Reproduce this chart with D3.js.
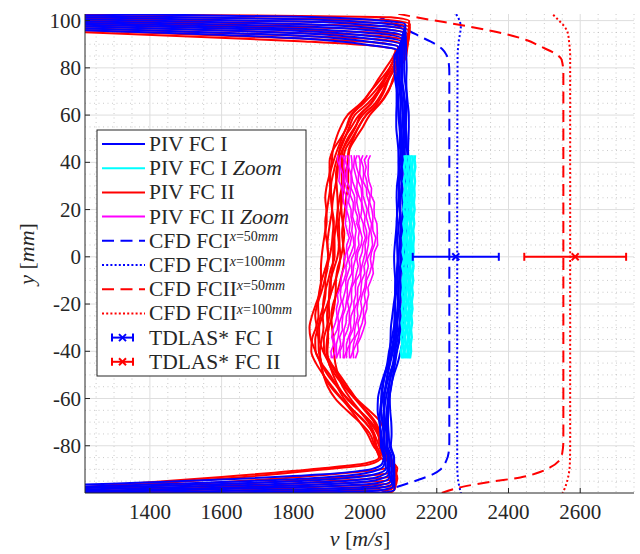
<!DOCTYPE html>
<html><head><meta charset="utf-8">
<script src="https://cdn.jsdelivr.net/npm/d3@7"></script>
<style>
body{margin:0;background:#fff}
text{font-family:"Liberation Serif","Times New Roman",serif;fill:#262626;white-space:pre}
</style>
</head><body>
<svg id="c" width="640" height="554"></svg>
<script>
// ---------------- data ----------------
const xTicks = [1400, 1600, 1800, 2000, 2200, 2400, 2600];
const yTicks = [-80, -60, -40, -20, 0, 20, 40, 60, 80, 100];

// shared y sampling of the PIV core profiles (mm)
const yCore = [-85,-80,-75,-70,-65,-60,-55,-50,-45,-40,-35,-30,-25,-20,-15,-10,-5,0,5,10,15,20,25,30,35,40,45,50,55,60,65,70,75,80,85];
// y sampling of the zoom windows (mm)
const yZoom = [-43,-40,-37,-34,-31,-28,-25,-22,-19,-16,-13,-10,-7,-4,-1,2,5,8,11,14,17,20,23,26,29,32,35,38,41,43];

// PIV FC I (blue) core velocities, one row per profile
const pivFC1Core = [
 [2052,2044,2045,2040,2035,2036,2043,2053,2064,2069,2071,2072,2076,2080,2084,2084,2082,2081,2083,2086,2089,2089,2088,2089,2093,2095,2093,2090,2087,2087,2088,2088,2084,2082,2082],
 [2057,2045,2043,2041,2042,2046,2050,2055,2062,2067,2074,2080,2084,2084,2084,2086,2089,2091,2090,2088,2088,2091,2094,2095,2094,2093,2094,2097,2097,2094,2091,2089,2089,2090,2087],
 [2057,2049,2051,2049,2045,2045,2048,2056,2068,2075,2081,2082,2082,2083,2087,2090,2092,2091,2090,2092,2095,2098,2098,2095,2095,2098,2100,2099,2096,2093,2093,2095,2094,2091,2088],
 [2064,2055,2053,2048,2045,2049,2057,2063,2069,2073,2079,2084,2088,2092,2093,2091,2091,2093,2096,2098,2100,2098,2097,2096,2099,2102,2104,2103,2100,2098,2099,2099,2095,2092,2091],
 [2065,2053,2054,2053,2053,2054,2057,2062,2070,2078,2086,2090,2091,2091,2092,2095,2097,2100,2100,2100,2099,2098,2100,2102,2105,2105,2103,2102,2103,2104,2104,2101,2097,2097,2096],
 [2067,2059,2061,2057,2053,2053,2059,2068,2078,2082,2085,2087,2092,2097,2100,2099,2099,2098,2098,2101,2104,2106,2106,2104,2103,2105,2107,2109,2109,2106,2103,2101,2102,2102,2098],
 [2074,2062,2060,2055,2054,2058,2065,2073,2080,2084,2090,2095,2099,2099,2098,2098,2101,2104,2106,2105,2104,2106,2109,2111,2111,2110,2108,2107,2108,2109,2109,2106,2102,2102,2102],
 [2073,2061,2062,2061,2061,2064,2067,2072,2080,2088,2095,2097,2098,2098,2101,2105,2108,2108,2107,2107,2107,2110,2113,2114,2113,2112,2111,2113,2113,2114,2112,2108,2104,2104,2104],
 [2080,2068,2066,2064,2064,2067,2073,2078,2084,2089,2096,2100,2105,2108,2108,2107,2107,2110,2113,2115,2113,2112,2112,2114,2117,2119,2117,2116,2114,2115,2117,2115,2111,2109,2109],
 [2081,2072,2074,2073,2070,2069,2072,2080,2091,2099,2105,2106,2107,2108,2112,2115,2117,2117,2115,2114,2116,2119,2121,2123,2123,2122,2120,2121,2122,2122,2119,2116,2115,2116,2115]
];
// PIV FC I near-wall points [v, y]
const pivFC1Bottom = [
 [[1150,-96.8],[1874,-92.2],[2020,-89.8],[2048,-87.5]],
 [[1150,-97.6],[1874,-93.5],[2020,-91.0],[2052,-88.5]],
 [[1150,-98.2],[1874,-94.5],[2025,-92.2],[2058,-89.6]],
 [[1150,-98.8],[1874,-95.5],[2030,-93.4],[2062,-90.8]],
 [[1150,-99.4],[1874,-96.4],[2030,-94.6],[2066,-92.0]],
 [[1150,-100.0],[1874,-97.3],[2035,-95.8],[2068,-93.4]],
 [[1150,-100.6],[1874,-98.2],[2035,-96.9],[2072,-94.8]],
 [[1150,-101.2],[1874,-99.0],[2040,-97.9],[2075,-96.0]],
 [[1150,-101.8],[1874,-99.8],[2040,-98.9],[2078,-97.2]],
 [[1150,-102.4],[1874,-100.6],[2045,-99.9],[2082,-98.6]]
];
const pivFC1Top = [
 [[2090,87.5],[2020,89.5],[1818,92.5],[1150,96.3]],
 [[2094,88.8],[2025,90.8],[1818,93.6],[1150,97.0]],
 [[2098,90.0],[2030,92.0],[1818,94.6],[1150,97.8]],
 [[2100,91.2],[2035,93.2],[1818,95.6],[1150,98.5]],
 [[2102,92.4],[2040,94.4],[1818,96.6],[1150,99.3]],
 [[2104,93.6],[2042,95.5],[1818,97.6],[1150,100.0]],
 [[2106,94.8],[2045,96.6],[1818,98.6],[1150,100.8]],
 [[2108,96.0],[2048,97.7],[1818,99.6],[1150,101.6]],
 [[2110,97.2],[2050,98.8],[1818,100.6],[1150,102.3]],
 [[2112,98.4],[2052,99.9],[1818,101.6],[1150,103.2]]
];

// PIV FC II (red) core velocities
const pivFC2Core = [
 [2039,2026,2014,1985,1949,1917,1896,1884,1875,1862,1849,1845,1852,1863,1874,1877,1877,1879,1883,1888,1893,1892,1889,1893,1901,1907,1910,1919,1932,1951,1988,2015,2036,2058,2079],
 [2044,2023,2007,1985,1961,1935,1908,1884,1863,1850,1852,1863,1870,1869,1872,1879,1889,1897,1895,1890,1889,1894,1899,1903,1901,1901,1910,1931,1950,1963,1992,2015,2043,2069,2084],
 [2042,2029,2022,2001,1967,1933,1904,1884,1878,1871,1870,1866,1861,1867,1878,1887,1895,1897,1895,1898,1903,1908,1907,1903,1903,1911,1922,1935,1948,1961,1996,2027,2052,2069,2084],
 [2054,2039,2025,1999,1967,1941,1922,1902,1878,1862,1861,1869,1876,1885,1890,1889,1893,1901,1907,1910,1913,1908,1905,1905,1911,1919,1930,1943,1956,1971,2008,2035,2053,2069,2088],
 [2053,2032,2026,2009,1983,1951,1922,1896,1878,1874,1879,1884,1882,1883,1888,1897,1905,1915,1915,1914,1911,1908,1911,1917,1923,1925,1928,1941,1962,1983,2018,2039,2056,2076,2095],
 [2055,2042,2038,2017,1983,1949,1926,1911,1899,1883,1873,1872,1882,1895,1904,1905,1909,1911,1911,1916,1921,1924,1923,1921,1919,1925,1936,1955,1974,1987,2016,2039,2064,2084,2097],
 [2066,2045,2035,2013,1985,1959,1938,1923,1902,1886,1885,1893,1900,1899,1900,1903,1913,1923,1927,1924,1921,1924,1929,1935,1935,1935,1938,1951,1972,1993,2028,2049,2063,2081,2102],
 [2062,2041,2038,2025,1999,1971,1942,1917,1899,1895,1897,1896,1894,1897,1906,1917,1927,1931,1929,1928,1927,1932,1937,1941,1939,1939,1944,1963,1982,2003,2034,2053,2066,2083,2104],
 [2072,2051,2043,2029,2003,1975,1952,1929,1905,1892,1894,1899,1909,1915,1918,1919,1923,1933,1939,1942,1937,1934,1933,1939,1945,1951,1954,1967,1982,2003,2042,2065,2077,2089,2110],
 [2067,2052,2054,2043,2011,1975,1946,1926,1917,1913,1912,1908,1906,1911,1922,1931,1939,1943,1939,1936,1939,1944,1947,1953,1953,1953,1956,1973,1994,2013,2042,2063,2080,2096,2115]
];
const pivFC2Bottom = [
 [[1150,-98.2],[1600,-93.2],[1874,-89.6],[2000,-87.5]],
 [[1150,-98.6],[1600,-94.0],[1874,-90.2],[2010,-88.0]],
 [[1150,-99.5],[1874,-92.5],[2060,-89.5],[2075,-87.5]],
 [[1150,-100.2],[1874,-94.0],[2070,-91.5],[2085,-88.5]],
 [[1150,-100.8],[1874,-95.2],[2075,-93.0],[2090,-89.5]],
 [[1150,-101.4],[1874,-96.3],[2070,-94.5],[2088,-91.0]],
 [[1150,-102.0],[1874,-97.4],[2065,-96.0],[2082,-92.5]],
 [[1150,-102.6],[1874,-98.4],[2070,-97.2],[2090,-94.0]],
 [[1150,-103.2],[1874,-99.4],[2072,-98.5],[2088,-95.5]],
 [[1150,-104.0],[1874,-100.4],[2075,-99.6],[2085,-97.0]]
];
const pivFC2Top = [
 [[2085,87.5],[2030,89.3],[1818,91.3],[1150,95.5]],
 [[2092,88.8],[2040,90.6],[1818,92.4],[1150,96.3]],
 [[2100,90.2],[2045,92.0],[1818,93.6],[1150,97.1]],
 [[2108,91.6],[2050,93.4],[1818,94.8],[1150,97.9]],
 [[2114,93.0],[2055,94.8],[1818,96.0],[1150,98.7]],
 [[2118,94.4],[2060,96.2],[1818,97.2],[1150,99.5]],
 [[2122,95.8],[2065,97.6],[1818,98.4],[1150,100.3]],
 [[2124,97.2],[2068,98.9],[1818,99.6],[1150,101.1]],
 [[2125,98.5],[2070,100.2],[1818,100.8],[1150,101.9]],
 [[2123,99.8],[2072,101.4],[1818,102.0],[1150,102.7]]
];

// PIV FC I Zoom (cyan)
const pivFC1Zoom = [
 [2103,2100,2104,2101,2105,2102,2106,2103,2107,2104,2106,2105,2108,2104,2109,2105,2108,2106,2110,2107,2111,2107,2110,2108,2112,2108,2113,2109,2112,2110],
 [2105,2108,2106,2109,2107,2110,2108,2111,2109,2111,2110,2112,2110,2113,2111,2114,2112,2114,2112,2115,2113,2116,2113,2116,2114,2117,2115,2117,2115,2116],
 [2112,2110,2113,2111,2115,2112,2116,2113,2116,2114,2117,2115,2118,2115,2118,2116,2119,2117,2120,2117,2120,2118,2121,2119,2122,2119,2122,2120,2123,2121],
 [2116,2119,2117,2120,2118,2121,2119,2122,2120,2122,2121,2123,2121,2124,2122,2124,2122,2125,2123,2126,2124,2126,2124,2127,2125,2127,2126,2128,2126,2127],
 [2123,2121,2124,2122,2125,2123,2126,2124,2127,2125,2127,2126,2128,2126,2129,2127,2129,2128,2130,2128,2131,2129,2131,2130,2132,2130,2133,2131,2133,2132],
 [2125,2128,2127,2130,2128,2131,2129,2132,2130,2133,2131,2134,2132,2135,2133,2135,2134,2136,2134,2137,2135,2138,2136,2138,2137,2139,2137,2140,2138,2139]
];
// PIV FC II Zoom (magenta)
const pivFC2Zoom = [
 [1906,1905,1913,1907,1910,1917,1922,1920,1925,1923,1931,1933,1935,1944,1941,1948,1949,1956,1950,1945,1947,1948,1940,1938,1936,1927,1929,1929,1923,1924],
 [1909,1916,1916,1912,1922,1926,1924,1928,1934,1931,1933,1941,1947,1947,1952,1950,1958,1962,1956,1958,1954,1948,1950,1947,1939,1938,1938,1931,1930,1933],
 [1919,1920,1920,1925,1927,1928,1935,1940,1937,1942,1947,1946,1952,1958,1954,1962,1969,1967,1963,1965,1961,1961,1954,1956,1948,1943,1944,1941,1942,1937],
 [1920,1927,1932,1929,1937,1936,1938,1945,1948,1951,1950,1953,1963,1963,1962,1971,1972,1972,1975,1971,1965,1967,1967,1959,1958,1949,1949,1950,1944,1947],
 [1931,1930,1938,1941,1941,1947,1948,1955,1951,1956,1961,1966,1966,1968,1973,1975,1983,1981,1984,1977,1979,1972,1972,1970,1961,1961,1961,1954,1955,1952],
 [1939,1940,1940,1942,1951,1956,1956,1957,1963,1962,1963,1972,1976,1981,1977,1980,1989,1992,1987,1982,1985,1981,1977,1978,1972,1965,1962,1964,1963,1961],
 [1941,1948,1948,1954,1961,1959,1961,1969,1969,1974,1973,1975,1986,1987,1985,1992,1994,2001,1996,1995,1988,1991,1990,1982,1977,1978,1973,1968,1970,1970],
 [1948,1949,1957,1957,1966,1970,1970,1971,1979,1979,1980,1988,1988,1991,1996,2001,2000,2005,2004,1998,2000,1995,1991,1991,1989,1981,1982,1976,1973,1978],
 [1957,1956,1958,1970,1971,1975,1980,1978,1981,1988,1989,1991,1999,1997,2004,2005,2009,2010,2013,2008,2003,2006,2000,1994,1993,1991,1985,1986,1986,1982],
 [1959,1966,1968,1973,1983,1980,1987,1991,1988,1992,1999,2002,2004,2009,2006,2015,2021,2019,2016,2018,2012,2009,2011,2005,2004,1994,1996,1995,1989,1994],
 [1968,1967,1975,1982,1985,1992,1996,1995,2001,1998,2003,2004,2013,2018,2015,2018,2026,2030,2022,2021,2022,2019,2013,2014,2007,2005,1999,2003,1998,2006],
 [1973,1980,1979,1988,1995,2001,1999,2005,2005,2010,2008,2016,2023,2021,2024,2026,2035,2034,2034,2033,2026,2025,2026,2017,2018,2011,2008,2009,2009,2015]
];

// CFD profiles [v, y]
const cfdFC1x50 = [[2040,-100.3],[2072,-98.2],[2110,-96.4],[2153,-94.2],[2190,-92.0],[2212,-89.8],[2226,-86.5],[2233,-83],[2235,-78],[2235,0],[2235,78],[2233,82.5],[2227,85.5],[2215,88],[2182,91.2],[2153,93.3],[2126,95.4],[2095,97.5],[2060,100],[2040,101.5]];
const cfdFC1x100 = [[2268,-100.5],[2264,-98],[2259,-94],[2257,-88],[2257,0],[2258,85],[2261,91],[2267,97.5],[2262,100.5],[2253,103]];
const cfdFC2x50 = [[2214,-100],[2274,-97.3],[2349,-95.3],[2433,-93.4],[2490,-91],[2516,-89.2],[2540,-86.5],[2550,-83],[2553,-78],[2553,0],[2553,78],[2548,83.5],[2525,86.5],[2490,89],[2450,91.8],[2400,94],[2300,97.2],[2220,99.4],[2150,101.2],[2088,103]];
const cfdFC2x100 = [[2550,-100.5],[2561,-96.3],[2567,-92.8],[2571,-88],[2572,-80],[2572,0],[2572,85],[2569,91],[2565,95],[2556,97.5],[2544,99.5],[2521,103]];

// TDLAS* (FC I, FC II)
const tdlasV = [2253, 2586];
const tdlasErr = [120, 142];
const tdlasY = [0, 0];
const tdlasColors = ["#0000ff", "#ff0000"];

// ---------------- drawing ----------------
const svg = d3.select("#c");
const L = 85, R = 634, T = 14, B = 493;
const x = d3.scaleLinear().domain([1219, 2750]).range([L, R]);
const y = d3.scaleLinear().domain([-100, 102.8]).range([B, T]);

svg.append("defs").append("clipPath").attr("id", "clip")
  .append("rect").attr("x", L).attr("y", T).attr("width", R - L).attr("height", B - T);

// grid
const grid = svg.append("g");
const xMinor = d3.range(1250, 2751, 50).filter(v => v % 200 !== 0);
const yMinor = d3.range(-95, 101, 5).filter(v => v % 20 !== 0);
grid.selectAll(".xm").data(xMinor).join("line")
  .attr("x1", d => x(d)).attr("x2", d => x(d)).attr("y1", T).attr("y2", B)
  .attr("stroke", "#bdbdbd").attr("stroke-width", 0.8).attr("stroke-dasharray", "1,3.5");
grid.selectAll(".ym").data(yMinor).join("line")
  .attr("y1", d => y(d)).attr("y2", d => y(d)).attr("x1", L).attr("x2", R)
  .attr("stroke", "#bdbdbd").attr("stroke-width", 0.8).attr("stroke-dasharray", "1,3.5");
grid.selectAll(".xM").data(xTicks).join("line")
  .attr("x1", d => x(d)).attr("x2", d => x(d)).attr("y1", T).attr("y2", B)
  .attr("stroke", "#dedede").attr("stroke-width", 1);
grid.selectAll(".yM").data(yTicks).join("line")
  .attr("y1", d => y(d)).attr("y2", d => y(d)).attr("x1", L).attr("x2", R)
  .attr("stroke", "#dedede").attr("stroke-width", 1);

const plot = svg.append("g").attr("clip-path", "url(#clip)");
const line = d3.line().x(d => x(d[0])).y(d => y(d[1])).curve(d3.curveMonotoneY);
const zline = d3.line().x(d => x(d[0])).y(d => y(d[1]));

// CFD
const cfd = [
  {d: cfdFC1x50, c: "#0000ff", dash: "12,6.5"},
  {d: cfdFC1x100, c: "#0000ff", dash: "2,2.4"},
  {d: cfdFC2x50, c: "#ff0000", dash: "12,6.5"},
  {d: cfdFC2x100, c: "#ff0000", dash: "2,2.4"}
];
cfd.forEach(s => plot.append("path").attr("d", line(s.d)).attr("fill", "none")
  .attr("stroke", s.c).attr("stroke-width", 2).attr("stroke-dasharray", s.dash));

function fullProfile(bot, core, top) {
  return bot.concat(yCore.map((yy, j) => [core[j], yy]), top);
}
// PIV FC II
pivFC2Core.forEach((c, i) => plot.append("path")
  .attr("d", line(fullProfile(pivFC2Bottom[i], c, pivFC2Top[i])))
  .attr("fill", "none").attr("stroke", "#ff0000").attr("stroke-width", 2));
// PIV FC II zoom
pivFC2Zoom.forEach(c => plot.append("path")
  .attr("d", zline(yZoom.map((yy, j) => [c[j], yy])))
  .attr("fill", "none").attr("stroke", "#ff00ff").attr("stroke-width", 1.6));
// PIV FC I
pivFC1Core.forEach((c, i) => plot.append("path")
  .attr("d", line(fullProfile(pivFC1Bottom[i], c, pivFC1Top[i])))
  .attr("fill", "none").attr("stroke", "#0000ff").attr("stroke-width", 2));
// PIV FC I zoom
pivFC1Zoom.forEach(c => plot.append("path")
  .attr("d", zline(yZoom.map((yy, j) => [c[j], yy])))
  .attr("fill", "none").attr("stroke", "#00ffff").attr("stroke-width", 2.6));

// TDLAS error bars
tdlasV.forEach((v, i) => {
  const g = plot.append("g").attr("stroke", tdlasColors[i]).attr("stroke-width", 2);
  const yy = y(tdlasY[i]);
  g.append("line").attr("x1", x(v - tdlasErr[i])).attr("x2", x(v + tdlasErr[i])).attr("y1", yy).attr("y2", yy);
  [v - tdlasErr[i], v + tdlasErr[i]].forEach(e => g.append("line")
    .attr("x1", x(e)).attr("x2", x(e)).attr("y1", yy - 4).attr("y2", yy + 4));
  g.append("line").attr("x1", x(v) - 3.5).attr("x2", x(v) + 3.5).attr("y1", yy - 3.5).attr("y2", yy + 3.5);
  g.append("line").attr("x1", x(v) - 3.5).attr("x2", x(v) + 3.5).attr("y1", yy + 3.5).attr("y2", yy - 3.5);
});

// axes
const ax = svg.append("g");
ax.append("line").attr("x1", L).attr("x2", L).attr("y1", T).attr("y2", B).attr("stroke", "#262626").attr("stroke-width", 1);
ax.append("line").attr("x1", L).attr("x2", R).attr("y1", B).attr("y2", B).attr("stroke", "#262626").attr("stroke-width", 1);
ax.selectAll(".xt").data(xTicks).join("line")
  .attr("x1", d => x(d)).attr("x2", d => x(d)).attr("y1", B).attr("y2", B - 5).attr("stroke", "#262626");
ax.selectAll(".yt").data(yTicks).join("line")
  .attr("y1", d => y(d)).attr("y2", d => y(d)).attr("x1", L).attr("x2", L + 5).attr("stroke", "#262626");
ax.selectAll(".xl").data(xTicks).join("text")
  .attr("x", d => x(d)).attr("y", 519).attr("text-anchor", "middle").attr("font-size", 21)
  .text(d => String(d));
ax.selectAll(".yl").data(yTicks).join("text")
  .attr("x", 81).attr("y", d => y(d) + 7).attr("text-anchor", "end").attr("font-size", 21)
  .text(d => String(d));

// axis labels
function rich(sel, parts) {
  parts.forEach(p => {
    const t = sel.append("tspan").text(p.t);
    if (p.i) t.attr("font-style", "italic");
    if (p.s) t.attr("font-size", p.s);
    if (p.dy) t.attr("dy", p.dy);
  });
  return sel;
}
rich(svg.append("text").attr("x", 360).attr("y", 546).attr("text-anchor", "middle").attr("font-size", 22),
  [{t: "v", i: 1}, {t: " ["}, {t: "m/s", i: 1}, {t: "]"}]);
rich(svg.append("text").attr("transform", "translate(34,254) rotate(-90)").attr("text-anchor", "middle").attr("font-size", 22),
  [{t: "y", i: 1}, {t: " ["}, {t: "mm", i: 1}, {t: "]"}]);

// legend
const lg = svg.append("g");
lg.append("rect").attr("x", 97).attr("y", 130).attr("width", 209).attr("height", 246)
  .attr("fill", "#fff").attr("stroke", "#262626").attr("stroke-width", 1);
const SUP = 14, SUPDY = -6.5;
const legendItems = [
  {k: "line", c: "#0000ff", parts: [{t: "PIV FC I"}]},
  {k: "line", c: "#00ffff", parts: [{t: "PIV FC I "}, {t: "Zoom", i: 1}]},
  {k: "line", c: "#ff0000", parts: [{t: "PIV FC II"}]},
  {k: "line", c: "#ff00ff", parts: [{t: "PIV FC II "}, {t: "Zoom", i: 1}]},
  {k: "line", c: "#0000ff", dash: "12,6.5", parts: [{t: "CFD FCI"}, {t: "x", i: 1, s: SUP, dy: SUPDY}, {t: "=50", s: SUP}, {t: "mm", i: 1, s: SUP}]},
  {k: "line", c: "#0000ff", dash: "2,2.2", parts: [{t: "CFD FCI"}, {t: "x", i: 1, s: SUP, dy: SUPDY}, {t: "=100", s: SUP}, {t: "mm", i: 1, s: SUP}]},
  {k: "line", c: "#ff0000", dash: "12,6.5", parts: [{t: "CFD FCII"}, {t: "x", i: 1, s: SUP, dy: SUPDY}, {t: "=50", s: SUP}, {t: "mm", i: 1, s: SUP}]},
  {k: "line", c: "#ff0000", dash: "2,2.2", parts: [{t: "CFD FCII"}, {t: "x", i: 1, s: SUP, dy: SUPDY}, {t: "=100", s: SUP}, {t: "mm", i: 1, s: SUP}]},
  {k: "err", c: "#0000ff", parts: [{t: "TDLAS* FC I"}]},
  {k: "err", c: "#ff0000", parts: [{t: "TDLAS* FC II"}]}
];
legendItems.forEach((it, i) => {
  const cy = 144 + i * 24.2;
  if (it.k === "line") {
    lg.append("line").attr("x1", 102).attr("x2", 145).attr("y1", cy).attr("y2", cy)
      .attr("stroke", it.c).attr("stroke-width", 2).attr("stroke-dasharray", it.dash || null);
  } else {
    const g = lg.append("g").attr("stroke", it.c).attr("stroke-width", 2);
    g.append("line").attr("x1", 112).attr("x2", 133).attr("y1", cy).attr("y2", cy);
    g.append("line").attr("x1", 112).attr("x2", 112).attr("y1", cy - 4).attr("y2", cy + 4);
    g.append("line").attr("x1", 133).attr("x2", 133).attr("y1", cy - 4).attr("y2", cy + 4);
    g.append("line").attr("x1", 119).attr("x2", 126).attr("y1", cy - 3.5).attr("y2", cy + 3.5);
    g.append("line").attr("x1", 119).attr("x2", 126).attr("y1", cy + 3.5).attr("y2", cy - 3.5);
  }
  rich(lg.append("text").attr("x", 149).attr("y", cy + 7).attr("font-size", 21.5), it.parts);
});
</script>
</body></html>
